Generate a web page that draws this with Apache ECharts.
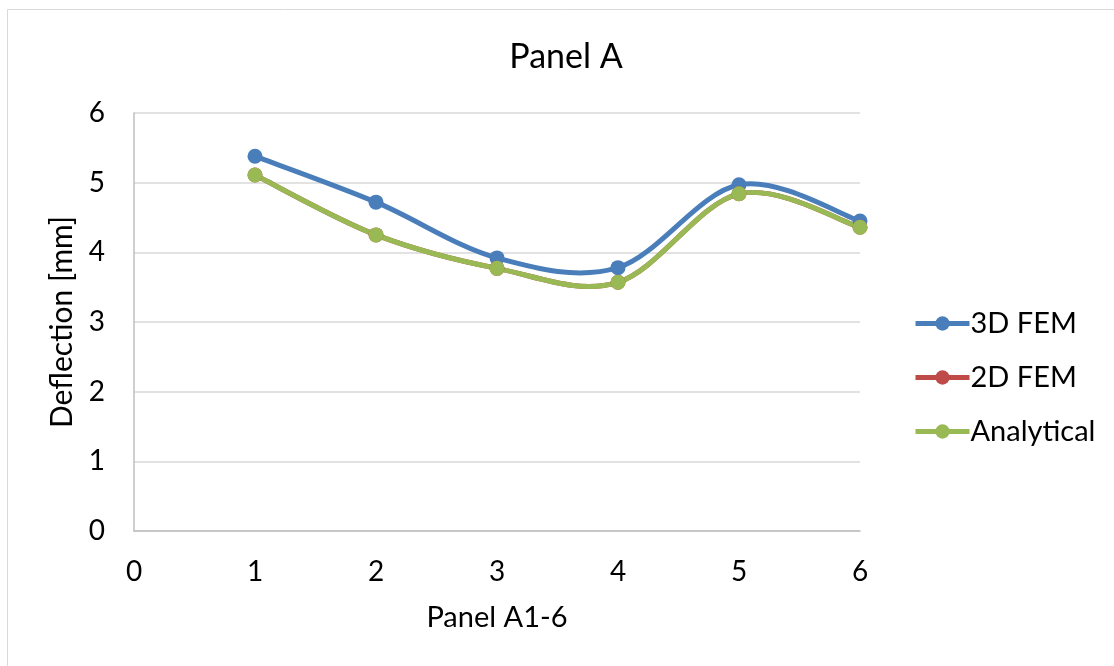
<!DOCTYPE html>
<html>
<head>
<meta charset="utf-8">
<script src="https://cdn.jsdelivr.net/npm/echarts@6/dist/echarts.min.js"></script>
<style>
  html, body { margin: 0; padding: 0; background: #fff; }
  #chart { width: 1114px; height: 666px; }
</style>
</head>
<body>
<div id="chart"></div>
<script>
// Panel positions along the x axis
const panels = [1, 2, 3, 4, 5, 6];
// Deflection values in mm
const fem3d = [5.38, 4.72, 3.92, 3.78, 4.97, 4.45];
const fem2d = [5.11, 4.25, 3.77, 3.57, 4.84, 4.36];
const analytical = [5.11, 4.25, 3.77, 3.57, 4.84, 4.36];
const seriesNames = ['3D FEM', '2D FEM', 'Analytical'];
const seriesColors = ['#4a7ebb', '#be4b48', '#98b954'];

const FONT = 'Lato, "Open Sans", sans-serif';
const LINE_W = 5;
const pairs = vals => panels.map((x, i) => [x, vals[i]]);

const chart = echarts.init(document.getElementById('chart'), null, { renderer: 'canvas' });

// Markers (and legend entry) for one series; its own line is hidden
function markerSeries(name, vals, color) {
  return {
    name: name,
    type: 'line',
    data: pairs(vals),
    symbol: 'circle',
    symbolSize: 15,
    lineStyle: { width: LINE_W, color: color, opacity: 0 },
    itemStyle: { color: color },
    emphasis: { disabled: true },
    z: 3
  };
}

// Smooth curve through the points: each segment is a cubic Bezier
// with Catmull-Rom style control points, placed in axis coordinates
function curveSeries(name, vals, color) {
  const pts = pairs(vals);
  return {
    name: name,
    type: 'custom',
    data: pts,
    encode: { x: 0, y: 1 },
    silent: true,
    z: 2,
    renderItem: function (params, api) {
      const i = params.dataIndex;
      if (i >= pts.length - 1) return null;
      const p0 = pts[Math.max(i - 1, 0)];
      const p1 = pts[i];
      const p2 = pts[i + 1];
      const p3 = pts[Math.min(i + 2, pts.length - 1)];
      const a = api.coord(p1);
      const b = api.coord(p2);
      const c1 = api.coord([p1[0] + (p2[0] - p0[0]) / 6, p1[1] + (p2[1] - p0[1]) / 6]);
      const c2 = api.coord([p2[0] - (p3[0] - p1[0]) / 6, p2[1] - (p3[1] - p1[1]) / 6]);
      return {
        type: 'bezierCurve',
        shape: {
          x1: a[0], y1: a[1], x2: b[0], y2: b[1],
          cpx1: c1[0], cpy1: c1[1], cpx2: c2[0], cpy2: c2[1]
        },
        style: { stroke: color, lineWidth: LINE_W, fill: null, lineCap: 'round' }
      };
    }
  };
}

const series = [];
seriesNames.forEach((n, k) => series.push(markerSeries(n, [fem3d, fem2d, analytical][k], seriesColors[k])));
seriesNames.forEach((n, k) => series.push(curveSeries(n, [fem3d, fem2d, analytical][k], seriesColors[k])));

chart.setOption({
  animation: false,
  backgroundColor: '#fff',
  title: {
    text: 'Panel A',
    left: 561, top: 35,
    textAlign: 'center',
    textStyle: { fontFamily: FONT, fontSize: 34, fontWeight: 'normal', color: '#000' }
  },
  graphic: [{
    type: 'rect',
    shape: { x: 7.5, y: 9.5, width: 1120, height: 670 },
    style: { fill: null, stroke: '#d9d9d9', lineWidth: 1 },
    silent: true,
    z: -1
  }],
  legend: {
    orient: 'vertical',
    left: 908, top: 304,
    itemWidth: 54, itemHeight: 18,
    itemGap: 25,
    data: seriesNames,
    lineStyle: { width: LINE_W, opacity: 1 },
    textStyle: { fontFamily: FONT, fontSize: 29, color: '#000', padding: [0, 0, 0, -4] }
  },
  grid: { left: 134, right: 254, top: 113, bottom: 135, containLabel: false },
  xAxis: {
    type: 'value',
    min: 0, max: 6, interval: 1,
    name: 'Panel A1-6',
    nameLocation: 'middle',
    nameGap: 72,
    nameTextStyle: { fontFamily: FONT, fontSize: 29, color: '#000' },
    axisLine: { show: true, onZero: false, lineStyle: { color: '#bfbfbf', width: 1.5 } },
    axisTick: { show: false },
    splitLine: { show: false },
    axisLabel: { fontFamily: FONT, fontSize: 28, color: '#000', margin: 27 }
  },
  yAxis: {
    type: 'value',
    min: 0, max: 6, interval: 1,
    name: 'Deflection [mm]',
    nameLocation: 'middle',
    nameGap: 57,
    nameTextStyle: { fontFamily: FONT, fontSize: 30, color: '#000' },
    axisLine: { show: true, lineStyle: { color: '#bfbfbf', width: 1.5 } },
    axisTick: { show: false },
    splitLine: { show: true, lineStyle: { color: '#d9d9d9', width: 1.5 } },
    axisLabel: { fontFamily: FONT, fontSize: 28, color: '#000', margin: 29 }
  },
  series: series
});
</script>
</body>
</html>
